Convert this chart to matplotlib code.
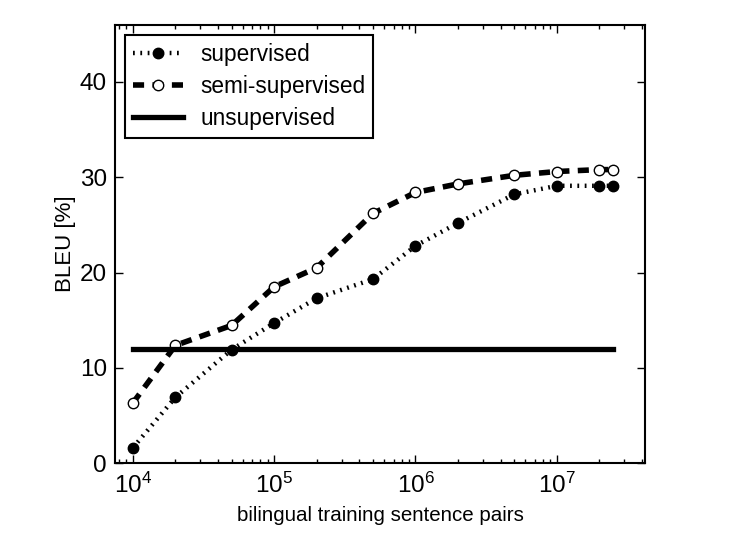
import matplotlib
matplotlib.use("Agg")
import matplotlib.pyplot as plt

plt.rcParams['font.family'] = ['Liberation Sans', 'DejaVu Sans']
plt.rcParams['mathtext.default'] = 'regular'
plt.rcParams['mathtext.fontset'] = 'custom'
plt.rcParams['mathtext.rm'] = 'Liberation Sans'

pairs = [1e4, 2e4, 5e4, 1e5, 2e5, 5e5, 1e6, 2e6, 5e6, 1e7, 2e7, 2.5e7]
supervised = [1.6, 6.9, 11.9, 14.7, 17.3, 19.3, 22.8, 25.2, 28.2, 29.1, 29.1, 29.1]
semi_supervised = [6.3, 12.35, 14.45, 18.5, 20.5, 26.2, 28.4, 29.3, 30.2, 30.6, 30.8, 30.8]
unsup_x = [1e4, 2.5e7]
unsupervised = [12.0, 12.0]
yticks = [0, 10, 20, 30, 40]

fig = plt.figure(figsize=(7.43, 5.5), dpi=100)
ax = fig.add_axes([0.155, 0.158, 0.713, 0.797])

ax.plot(pairs, supervised, linestyle=':', color='black', linewidth=3.2,
        dashes=(0.4, 1.25), dash_capstyle='butt',
        marker='o', markersize=7.5, markerfacecolor='black', markeredgecolor='black',
        label='supervised')
ax.plot(pairs, semi_supervised, linestyle='--', color='black', linewidth=4,
        dashes=(2.0, 1.5), dash_capstyle='butt',
        marker='o', markersize=7.5, markerfacecolor='white', markeredgecolor='black',
        markeredgewidth=1, label='semi-supervised')
ax.plot(unsup_x, unsupervised, linestyle='-', color='black', linewidth=3.8,
        label='unsupervised')

ax.set_xscale('log')
ax.set_xlim(7.5e3, 4.2e7)
ax.set_ylim(0, 46)
ax.set_yticks(yticks)

ax.tick_params(which='both', direction='in', top=True, right=True, labelsize=17.5)
ax.tick_params(which='major', length=6, width=1)
ax.tick_params(which='minor', length=3, width=1)
ax.tick_params(axis='x', pad=7)
ax.tick_params(axis='y', pad=6)
for s in ax.spines.values():
    s.set_linewidth(1.5)

ax.set_xlabel('bilingual training sentence pairs', fontsize=14.8, labelpad=6)
ax.set_ylabel('BLEU [%]', fontsize=16, labelpad=3)

leg = ax.legend(loc='upper left', numpoints=1, fontsize=16.3, fancybox=False,
                edgecolor='black', framealpha=1, borderaxespad=0.45,
                handlelength=2.2, handletextpad=0.75, borderpad=0.35, labelspacing=0.4)
leg.get_frame().set_linewidth(1.5)

fig.savefig('out.png', dpi=100)
